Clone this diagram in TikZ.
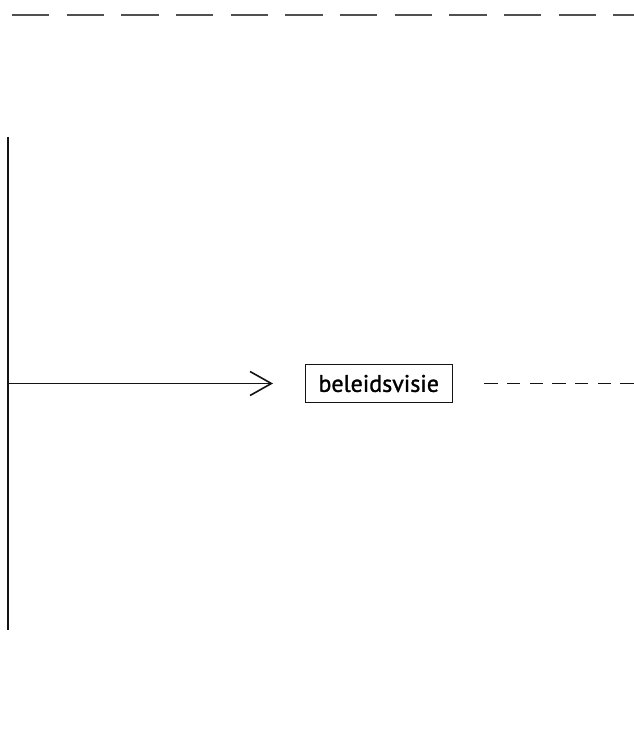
\documentclass[tikz,border=0pt]{standalone}
\usepackage{fontspec}
\setmainfont{PT Sans}
\newfontfamily\labelfont{PT Sans}[RawFeature={embolden=1.2}]
\usetikzlibrary{positioning,arrows.meta}
\definecolor{lijn}{RGB}{20,20,20}
\definecolor{grijs}{RGB}{80,80,80}
\tikzset{
  kader/.style={draw=lijn,line width=0.6pt,fill=white,font=\labelfont\fontsize{18}{21}\selectfont,
    minimum width=110pt,minimum height=29pt,inner sep=2pt},
  pijl/.style={-{Straight Barb[length=16pt,width=18pt,line width=1.2pt]},line width=1.1pt,lijn},
  as/.style={line width=1.2pt,lijn},
}
\begin{document}
\begin{tikzpicture}[x=0.75pt,y=-0.75pt]
\useasboundingbox (0,0) rectangle (634,748);
\coordinate (top) at (8,137);
\coordinate (bodem) at (8,630);
\node[kader,anchor=west] (visie) at (305,383.5) {beleidsvisie};
\coordinate (start) at (8,383.5);
\coordinate (eind) at (634,383.5);
\coordinate (lo) at (12,15);\coordinate (ro) at (634,15);
\draw[as](top)--(bodem);
\draw[pijl](start)--([xshift=-24pt]visie.west);
\draw[as,line width=1.3pt,dash pattern=on 10pt off 7pt]([xshift=24pt]visie.east)--(eind);
\draw[grijs,line width=1.2pt,dash pattern=on 28pt off 13pt](lo)--(ro);
\end{tikzpicture}
\end{document}
